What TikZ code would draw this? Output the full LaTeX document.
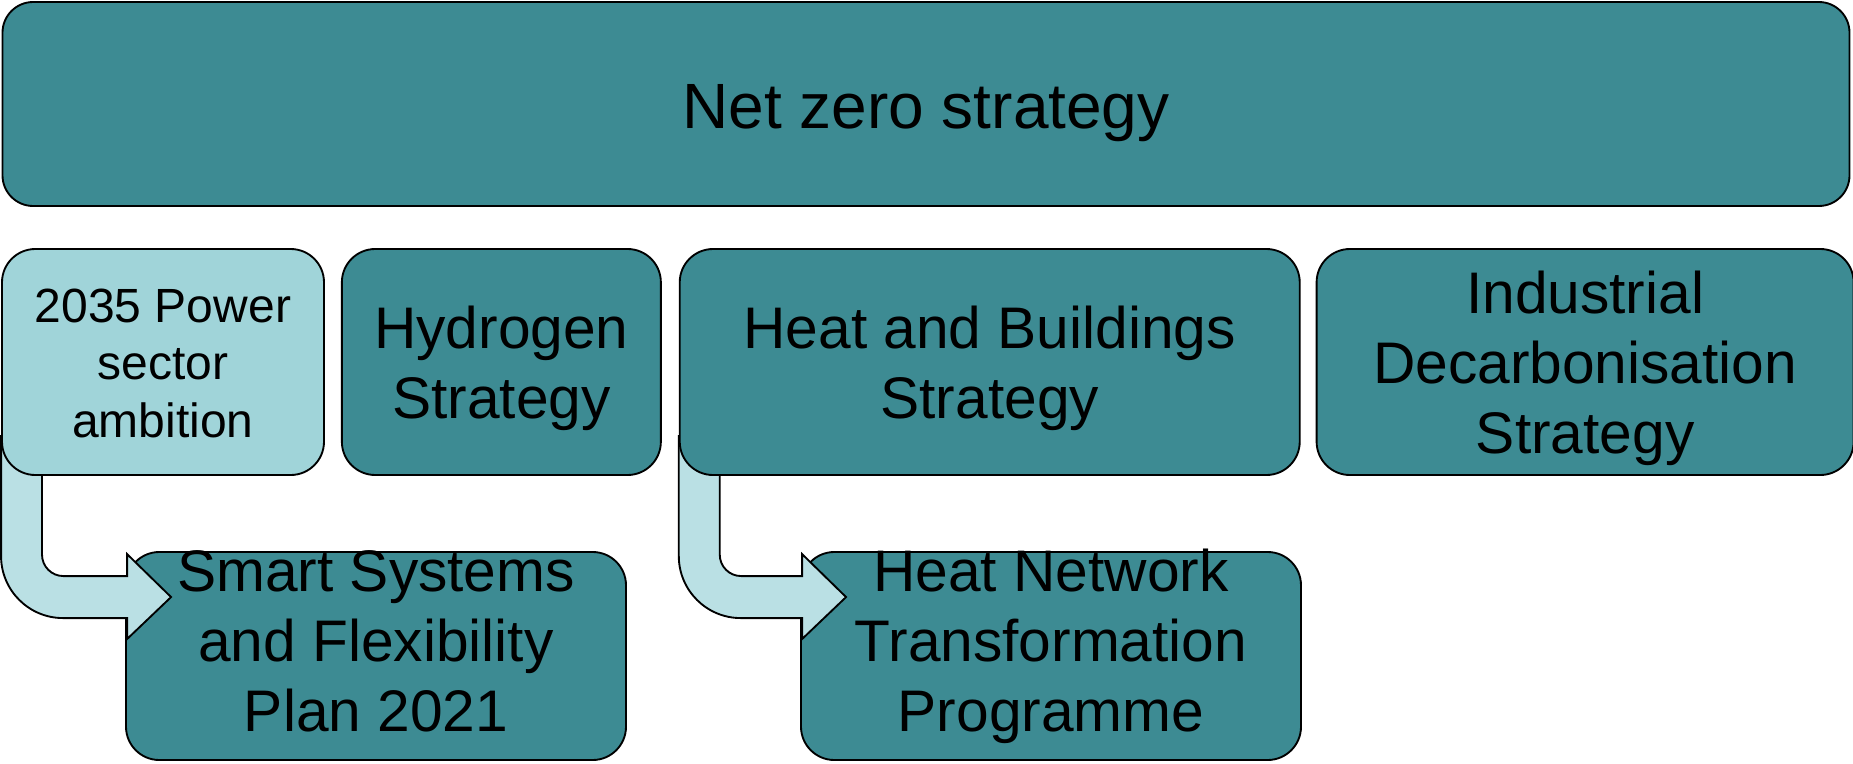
\documentclass[tikz,border=0pt]{standalone}
\usepackage{fontspec}
\setmainfont{Liberation Sans}
\usetikzlibrary{positioning,calc}
\definecolor{strat}{HTML}{3D8B93}
\definecolor{ambition}{HTML}{A0D4D9}
\definecolor{flow}{HTML}{BAE0E4}
\pgfdeclarelayer{back}
\pgfsetlayers{back,main}
% struts so the text sits in the box as in the slide
\newcommand{\tstrut}{\rule{0pt}{0.96em}}
\newcommand{\bstrut}{\rule[-0.22em]{0pt}{0.22em}}
\newcommand{\lowstrut}{\rule[-34pt]{0pt}{34pt}}
% bent block arrow from the bottom of one box into the side of another
\newcommand{\bentarrow}[2]{%
  \coordinate (arrowfrom) at (#1.south west);
  \coordinate (arrowto) at (#2.north west);
  \draw[flowarrow] ($(arrowfrom)+(0,-40)$) -- ($(arrowfrom |- arrowto)+(0,5)$)
    arc[start angle=180,end angle=270,radius=46.5pt]
    -- ($(arrowto)+(2,67)$) -- ($(arrowto)+(2,88)$) -- ($(arrowto)+(46,46)$)
    -- ($(arrowto)+(2,3)$) -- ($(arrowto)+(2,25)$) -- ($(arrowfrom |- arrowto)+(62.3,25)$)
    arc[start angle=270,end angle=180,radius=16pt]
    -- ($(arrowfrom)+(41,-40)$) -- cycle;}

\begin{document}
\begin{tikzpicture}[
  x=0.75pt,y=-0.75pt,
  node distance=12pt,
  px/.style 2 args={minimum width=#1*0.75pt,minimum height=#2*0.75pt},
  box/.style={draw=black,line width=1.4pt,rounded corners=25pt,fill=strat,
              inner sep=0pt,align=center,font=\fontsize{44}{52.5}\selectfont},
  lowbox/.style={box,px={500}{208},inner ysep=-15pt},
  flowarrow/.style={draw=black,line width=1.4pt,fill=flow,line join=miter}]
  \useasboundingbox (0,0) rectangle (1853,764);
  \node[box,px={1847}{204},rounded corners=23pt,font=\fontsize{48}{58}\selectfont] (netzero) at (926,104) {\rule{0pt}{1em}Net zero strategy\bstrut};
  \node[box,px={322}{226},fill=ambition,font=\fontsize{36}{43}\selectfont] (power) at (163,362) {\tstrut 2035 Power\\sector\\ambition\bstrut};
  \node[box,px={319}{226},right=12pt of power] (hydrogen) {\tstrut Hydrogen\\Strategy\bstrut};
  \node[box,px={620}{226},right=12.75pt of hydrogen] (heat) {\tstrut Heat and Buildings\\Strategy\bstrut};
  \node[box,px={537}{226},right=11.25pt of heat] (industrial) {\tstrut Industrial\\Decarbonisation\\Strategy\bstrut};
  \begin{pgfonlayer}{back}
    \node[lowbox] (smart) at (376,656) {\tstrut Smart Systems\\and Flexibility\\Plan 2021\lowstrut};
    \node[lowbox] (heatnet) at (1051,656) {\tstrut Heat Network\\Transformation\\Programme\lowstrut};
    \bentarrow{power}{smart}
    \bentarrow{heat}{heatnet}
  \end{pgfonlayer}
\end{tikzpicture}
\end{document}
